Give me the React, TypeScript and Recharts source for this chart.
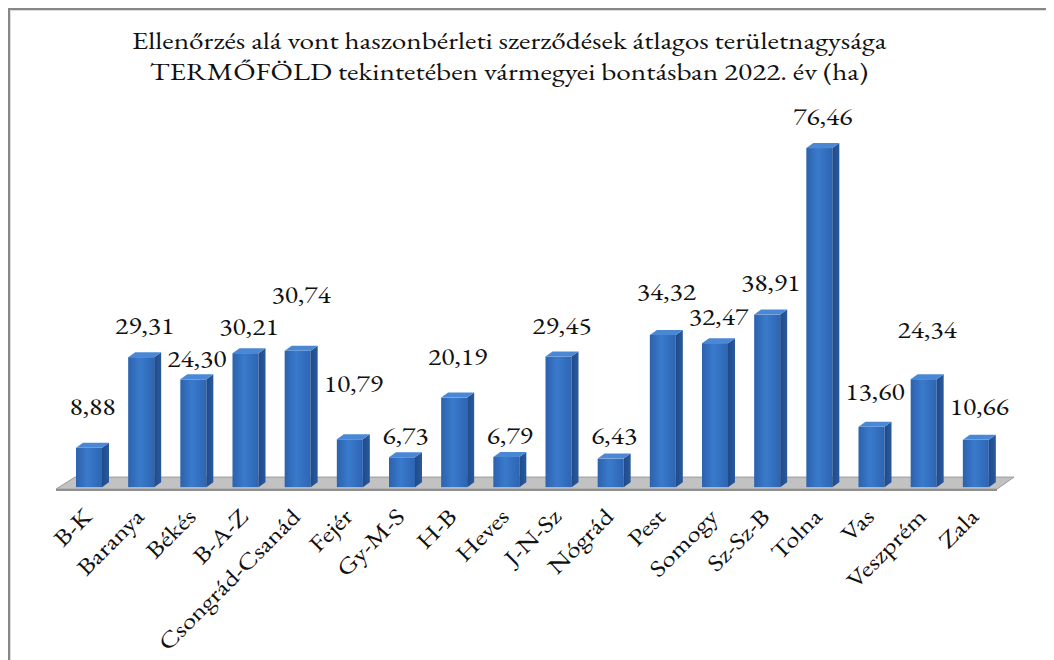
import React from "react";
import { BarChart, Bar, XAxis, YAxis, LabelList, ReferenceArea } from "recharts";

const categories = [
  "B-K", "Baranya", "Békés", "B-A-Z", "Csongrád-Csanád", "Fejér", "Gy-M-S", "H-B", "Heves",
  "J-N-Sz", "Nógrád", "Pest", "Somogy", "Sz-Sz-B", "Tolna", "Vas", "Veszprém", "Zala",
];
const values = [
  8.88, 29.31, 24.3, 30.21, 30.74, 10.79, 6.73, 20.19, 6.79,
  29.45, 6.43, 34.32, 32.47, 38.91, 76.46, 13.6, 24.34, 10.66,
];
const titleLines = [
  "Ellenőrzés alá vont haszonbérleti szerződések átlagos területnagysága",
  "TERMŐFÖLD tekintetében vármegyei bontásban 2022. év (ha)",
];
// data-label lift above each bar top, as placed by hand in the original chart (px)
const labelLift = [35, 26, 15, 21, 50, 50, 16, 35, 16, 25, 17, 37, 21, 26, 26, 29, 44, 27];

const data = categories.map((c, i) => ({ name: c, value: values[i], lift: labelLift[i] }));

const FONT = "EB Garamond";
const FS = 23;
const SX = 1.2;
const DEPTH_X = 7;
const DEPTH_Y = 5;

const Bar3D = (props: any) => {
  const { x, y, width, height } = props;
  if (height == null || height <= 0) return null;
  const fw = width - DEPTH_X;
  return (
    <g>
      <rect x={x} y={y} width={fw} height={height} fill="url(#frontGrad)" />
      <polygon
        points={`${x + fw},${y} ${x + width},${y - DEPTH_Y} ${x + width},${y + height - DEPTH_Y} ${x + fw},${y + height}`}
        fill="url(#sideGrad)"
      />
      <polygon
        points={`${x},${y} ${x + DEPTH_X},${y - DEPTH_Y} ${x + width},${y - DEPTH_Y} ${x + fw},${y}`}
        fill="#4a88d6"
      />
    </g>
  );
};

const Floor = (props: any) => {
  const { x, y, width, height } = props;
  const b = y + height;
  return (
    <g>
      <polygon
        points={`${x - 10},${b - 2} ${x + 9},${y} ${x + width + 9},${y} ${x + width - 8},${b - 2}`}
        fill="#c2c2c2"
        stroke="#9a9a9a"
        strokeWidth={1}
      />
      <polygon
        points={`${x - 10},${b - 2} ${x + width - 8},${b - 2} ${x + width - 8},${b} ${x - 10},${b}`}
        fill="#8f8f8f"
      />
    </g>
  );
};

const Tick = (props: any) => {
  const { x, y, payload } = props;
  const ax = x + 1;
  const ay = y + 22;
  return (
    <text
      x={0}
      y={0}
      transform={`translate(${ax}, ${ay}) rotate(-45) scale(${SX}, 1)`}
      textAnchor="end"
      fontSize={FS}
      fontFamily={FONT}
      fill="#111"
    >
      {payload.value}
    </text>
  );
};

const ValueLabel = (props: any) => {
  const { x, y, width, value, index } = props;
  const lift = labelLift[index] ?? 26;
  const cx = x + width / 2;
  const by = y - DEPTH_Y - lift + 7.5;
  return (
    <text
      x={0}
      y={0}
      transform={`translate(${cx}, ${by}) scale(${SX}, 1)`}
      textAnchor="middle"
      fontSize={FS}
      fontFamily={FONT}
      fill="#111"
    >
      {Number(value).toFixed(2).replace(".", ",")}
    </text>
  );
};

export default function App() {
  return (
    <div style={{ position: "relative", width: 1046, height: 652, background: "#fff" }}>
      <BarChart
        width={1046}
        height={652}
        data={data}
        margin={{ top: 80, right: 49, left: 58, bottom: 4 }}
        barCategoryGap={0}
      >
        <defs>
          <linearGradient id="frontGrad" x1="0" y1="0" x2="1" y2="0">
            <stop offset="0%" stopColor="#2c62ad" />
            <stop offset="45%" stopColor="#3a7acc" />
            <stop offset="100%" stopColor="#2d65b2" />
          </linearGradient>
          <linearGradient id="sideGrad" x1="0" y1="0" x2="1" y2="0">
            <stop offset="0%" stopColor="#1f4b8a" />
            <stop offset="100%" stopColor="#29599e" />
          </linearGradient>
        </defs>
        <XAxis
          dataKey="name"
          height={160}
          axisLine={false}
          tickLine={false}
          tickSize={0}
          tickMargin={0}
          interval={0}
          tick={<Tick />}
        />
        <YAxis hide domain={[-2, 90]} allowDataOverflow />
        <ReferenceArea y1={-0.9} y2={2.26} shape={<Floor />} ifOverflow="visible" />
        <Bar dataKey="value" barSize={33} shape={<Bar3D />} isAnimationActive={false}>
          <LabelList dataKey="value" content={<ValueLabel />} />
        </Bar>
      </BarChart>
      <svg
        width={1046}
        height={652}
        style={{ position: "absolute", left: 0, top: 0, pointerEvents: "none" }}
      >
        <rect x={0} y={0} width={1046} height={2} fill="#878787" />
        <rect x={0} y={0} width={2} height={652} fill="#878787" />
        <rect x={2} y={2} width={1044} height={1} fill="#dcdcdc" />
        <rect x={2} y={2} width={1} height={650} fill="#dcdcdc" />
        {titleLines.map((t, i) => (
          <text
            key={i}
            x={0}
            y={0}
            transform={`translate(501, ${41 + i * 31}) scale(1.22, 1)`}
            textAnchor="middle"
            fontSize={24}
            fontFamily={FONT}
            fill="#111"
          >
            {t}
          </text>
        ))}
      </svg>
    </div>
  );
}
